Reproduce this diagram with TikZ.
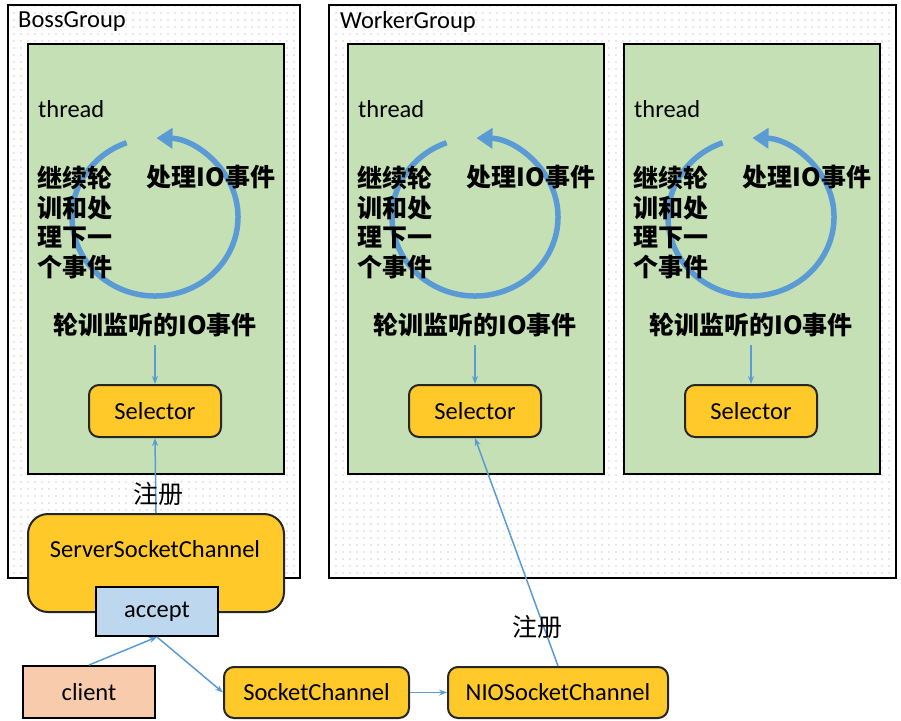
\documentclass[tikz,border=0pt]{standalone}
\usepackage{fontspec}
\setmainfont{Carlito}
\newfontfamily\cjk{Noto Sans CJK SC}
\usetikzlibrary{arrows.meta,patterns.meta}
\definecolor{thgreen}{HTML}{C5E0B4}
\definecolor{ylw}{HTML}{FFC929}
\definecolor{lblue}{HTML}{5B9BD5}
\definecolor{acc}{HTML}{BDD7EE}
\definecolor{cli}{HTML}{F8CBAD}
\tikzset{
  grp/.style={draw=black, line width=1.3pt, preaction={fill=white}, pattern={Dots[distance=7pt,radius=0.55pt]}, pattern color=gray!75},
  thr/.style={draw=black, line width=2.4pt, fill=thgreen},
  ybox/.style={draw=black!85, line width=2pt, fill=ylw, rounded corners=10pt},
  conn/.style={draw=lblue, line width=1.5pt, -{Stealth[length=8pt,width=6pt]}},
  cyc/.style={draw=lblue, line width=5.5pt, -{Triangle[length=16pt,width=20pt]}},
  txt/.style={font=\fontsize{24.5}{28}\selectfont, inner sep=0pt},
  ctxt/.style={font=\fontsize{25}{30}\selectfont\cjk, inner sep=0pt},
  btxt/.style={font=\fontsize{25}{29.7}\selectfont\cjk\bfseries, inner sep=0pt},
}
\begin{document}
\begin{tikzpicture}[x=1pt,y=-1pt]
\useasboundingbox (0,0) rectangle (901,720);
% groups
\node[grp, minimum width=292pt, minimum height=573pt] (boss) at (154,291.5) {};
\node[txt, anchor=west] (bosslbl) at (18,22) {BossGroup};
\node[grp, minimum width=567pt, minimum height=573pt] (worker) at (612.5,291.5) {};
\node[txt, anchor=west] (worklbl) at (340,22) {WorkerGroup};
% threads
\foreach \n/\dx in {t0/0, t1/320, t2/596} {
  \node[thr, minimum width=256pt, minimum height=430pt] (\n) at (156+\dx,259) {};
  \node[txt, anchor=west] (\n lbl) at (38+\dx,109) {thread};
  \begin{scope}[shift={(155+\dx,217)}, yscale=-1]
    \draw[cyc] (110:83 and 79) arc[start angle=110, end angle=449, x radius=83, y radius=79];
  \end{scope}
  \node[btxt, anchor=west, align=left] (\n a) at (37+\dx,222.5) {继续轮\\训和处\\理下一\\个事件};
  \node[btxt] (\n b) at (211+\dx,177) {处理IO事件};
  \node[btxt] (\n c) at (155+\dx,325) {轮训监听的IO事件};
  \node[ybox, minimum width=132pt, minimum height=52pt, txt] (\n sel) at (155+\dx,411) {Selector};
  \coordinate (\n top) at (155+\dx,345);
  \draw[conn] (\n top) -- (\n sel.north);
}
% server socket channel
\node[ybox, rounded corners=20pt, minimum width=256pt, minimum height=98pt] (ssc) at (156,563) {};
\node[txt] (ssctxt) at (155,549) {ServerSocketChannel};
\node[draw=black, line width=2pt, fill=acc, minimum width=122pt, minimum height=49pt, txt] (acc) at (157,611.5) {accept};
\node[draw=black, line width=2pt, fill=cli, minimum width=132pt, minimum height=52pt, txt] (cli) at (89,692) {client};
\node[ybox, minimum width=185pt, minimum height=51pt, txt] (sc) at (316.5,692.5) {SocketChannel};
\node[ybox, minimum width=220pt, minimum height=51pt, txt] (nio) at (558,692.5) {NIOSocketChannel};
% connectors
\draw[conn] (ssc.north) -- (t0sel.south);
\node[ctxt] (reg1) at (158,494) {注册};
\draw[conn] (cli.north) -- (acc.south);
\draw[conn] (acc.south) -- (sc.west);
\draw[conn] (sc.east) -- (nio.west);
\draw[conn] (nio.north) -- (t1sel.south);
\node[ctxt] (reg2) at (537,627) {注册};
\end{tikzpicture}
\end{document}
